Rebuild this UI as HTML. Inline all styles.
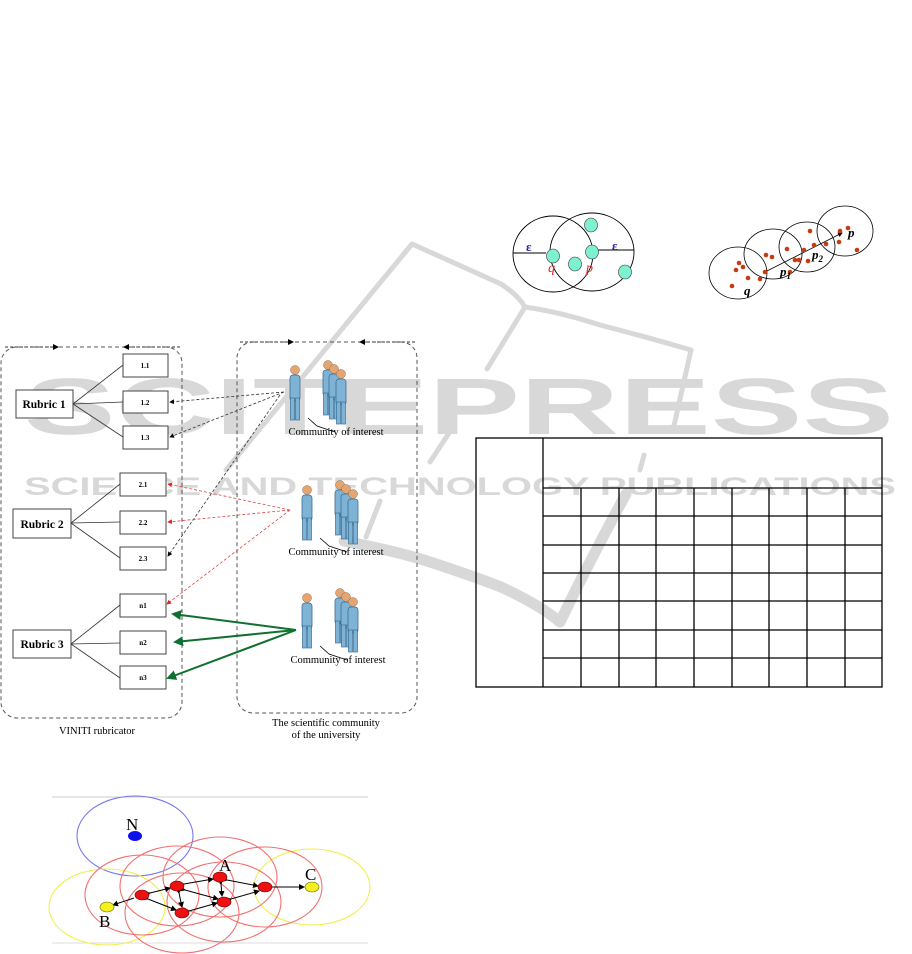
<!DOCTYPE html>
<html><head><meta charset="utf-8"><style>
html,body{margin:0;padding:0;background:#fff;}
svg{display:block;}
text{font-family:"Liberation Serif",serif;}
</style></head><body>
<svg width="912" height="954" viewBox="0 0 912 954" xmlns="http://www.w3.org/2000/svg">
<defs>
<marker id="ak" markerWidth="6" markerHeight="6" refX="5" refY="3" orient="auto"><path d="M0,0 L6,3 L0,6 z" fill="#000"/></marker>
<marker id="ar" markerWidth="6" markerHeight="6" refX="5" refY="3" orient="auto"><path d="M0,0 L6,3 L0,6 z" fill="#d22"/></marker>
<marker id="ag" markerWidth="5" markerHeight="5" refX="4" refY="2.5" orient="auto"><path d="M0,0 L5,2.5 L0,5 z" fill="#107030"/></marker>
<g id="man">
<circle cx="0" cy="0" r="4.5" fill="#e2a574" stroke="#a06a40" stroke-width="0.5"/>
<rect x="-5" y="5" width="10" height="26" rx="3" fill="#7fb3d6" stroke="#3a6f95" stroke-width="0.8"/>
<rect x="-4.5" y="28" width="4" height="22" fill="#7fb3d6" stroke="#3a6f95" stroke-width="0.7"/>
<rect x="0.5" y="28" width="4" height="22" fill="#7fb3d6" stroke="#3a6f95" stroke-width="0.7"/>
</g>
<g id="group">
<use href="#man" x="0" y="0"/>
<use href="#man" x="33" y="-5"/>
<use href="#man" x="39" y="-1"/>
<use href="#man" x="46" y="4"/>
<path d="M13,48 L22,56 L40,62" fill="none" stroke="#000" stroke-width="0.8"/>
</g>
</defs>

<!-- watermark -->
<g fill="none" stroke="#d8d8d8" stroke-width="5" stroke-linecap="round" stroke-linejoin="round">
<path d="M226,470 L412,244 Q470,270 501,284 Q518,295 525,307 Q560,312 600,325 Q650,338 691,350 L673,430"/>
<path d="M525,307 L487,369"/>
<path d="M451,430 L430,462"/>
<path d="M380,501 L366,537"/>
<path d="M644,455 L640,470"/>
<path d="M344,541 Q400,552 430,562 Q470,575 501,587 Q540,605 560,622 Q590,560 626,494" stroke-width="11"/>
</g>
<text x="24" y="434" font-weight="bold" font-size="80" fill="#d8d8d8" textLength="870" lengthAdjust="spacingAndGlyphs" style="font-family:'Liberation Sans',sans-serif">SCITEPRESS</text>
<text x="24" y="495" font-weight="bold" font-size="25" fill="#d8d8d8" textLength="872" lengthAdjust="spacingAndGlyphs" style="font-family:'Liberation Sans',sans-serif">SCIENCE AND TECHNOLOGY PUBLICATIONS</text>

<!-- DBSCAN left -->
<g fill="none" stroke="#000" stroke-width="0.9">
<ellipse cx="553" cy="254" rx="40" ry="38"/>
<ellipse cx="592" cy="252" rx="42" ry="39"/>
<line x1="513" y1="253" x2="546" y2="253"/>
<line x1="598" y1="250" x2="634" y2="250"/>
</g>
<g fill="#7ff0d0" stroke="#333" stroke-width="0.6">
<ellipse cx="553" cy="256" rx="6.5" ry="7"/>
<ellipse cx="591" cy="225" rx="6.5" ry="7"/>
<ellipse cx="575" cy="264" rx="6.5" ry="7"/>
<ellipse cx="592" cy="252" rx="6.5" ry="7"/>
<ellipse cx="625" cy="272" rx="6.5" ry="7"/>
</g>
<text x="526" y="251" font-size="13" font-weight="bold" fill="#229">ε</text>
<text x="612" y="250" font-size="13" font-weight="bold" fill="#229">ε</text>
<text x="548" y="272" font-size="14" font-style="italic" fill="#e22">q</text>
<text x="586" y="272" font-size="14" font-style="italic" fill="#e22">p</text>

<!-- DBSCAN right -->
<g fill="none" stroke="#000" stroke-width="0.8">
<ellipse cx="738" cy="273" rx="29" ry="26"/>
<ellipse cx="773" cy="254" rx="29" ry="25"/>
<ellipse cx="807" cy="247" rx="28" ry="25"/>
<ellipse cx="845" cy="231" rx="28" ry="25"/>
<line x1="765" y1="272" x2="842" y2="233" marker-end="url(#ak)"/>
</g>
<g fill="#c83a10">
<circle cx="739" cy="263" r="2.3"/><circle cx="743" cy="267" r="2.3"/><circle cx="736" cy="270" r="2.3"/><circle cx="765" cy="272" r="2.3"/><circle cx="748" cy="278" r="2.3"/><circle cx="760" cy="279" r="2.3"/><circle cx="732" cy="286" r="2.3"/>
<circle cx="766" cy="255" r="2.3"/><circle cx="772" cy="257" r="2.3"/><circle cx="787" cy="249" r="2.3"/><circle cx="799" cy="260" r="2.3"/><circle cx="790" cy="272" r="2.3"/><circle cx="804" cy="250" r="2.3"/><circle cx="808" cy="261" r="2.3"/><circle cx="795" cy="260" r="2.3"/>
<circle cx="814" cy="245" r="2.3"/><circle cx="826" cy="244" r="2.3"/><circle cx="839" cy="242" r="2.3"/><circle cx="840" cy="231" r="2.3"/><circle cx="810" cy="231" r="2.3"/><circle cx="857" cy="250" r="2.3"/><circle cx="848" cy="228" r="2.3"/>
</g>
<text x="744" y="295" font-size="13" font-weight="bold" font-style="italic">q</text>
<text x="780" y="276" font-size="13" font-weight="bold" font-style="italic">p<tspan font-size="9" dy="3">1</tspan></text>
<text x="812" y="259" font-size="13" font-weight="bold" font-style="italic">p<tspan font-size="9" dy="3">2</tspan></text>
<text x="848" y="237" font-size="13" font-weight="bold" font-style="italic">p</text>

<!-- Left diagram -->
<g fill="none" stroke="#555" stroke-width="1" stroke-dasharray="4,3">
<rect x="1" y="347" width="181" height="371" rx="16"/>
<rect x="237" y="342" width="180" height="371" rx="16"/>
</g>
<g stroke="#333" stroke-width="1" stroke-dasharray="3,2">
<line x1="5" y1="347" x2="58" y2="347" marker-end="url(#ak)"/>
<line x1="180" y1="347" x2="124" y2="347" marker-end="url(#ak)"/>
<line x1="240" y1="342" x2="293" y2="342" marker-end="url(#ak)"/>
<line x1="415" y1="342" x2="360" y2="342" marker-end="url(#ak)"/>
</g>
<g stroke="#333" stroke-width="0.8">
<line x1="73" y1="404" x2="123" y2="365"/><line x1="73" y1="404" x2="123" y2="402"/><line x1="73" y1="404" x2="123" y2="437"/>
<line x1="71" y1="523" x2="120" y2="484"/><line x1="71" y1="523" x2="120" y2="522"/><line x1="71" y1="523" x2="120" y2="558"/>
<line x1="71" y1="644" x2="120" y2="605"/><line x1="71" y1="644" x2="120" y2="643"/><line x1="71" y1="644" x2="120" y2="678"/>
</g>
<g fill="#fff" stroke="#444" stroke-width="1">
<rect x="16" y="390" width="57" height="28"/><rect x="13" y="509" width="58" height="29"/><rect x="13" y="630" width="58" height="28"/>
<rect x="123" y="354" width="45" height="23"/><rect x="123" y="391" width="45" height="22"/><rect x="123" y="426" width="45" height="23"/>
<rect x="120" y="473" width="46" height="23"/><rect x="120" y="511" width="46" height="23"/><rect x="120" y="547" width="46" height="23"/>
<rect x="120" y="594" width="46" height="23"/><rect x="120" y="631" width="46" height="23"/><rect x="120" y="666" width="46" height="23"/>
</g>
<g font-size="11.5" font-weight="bold" text-anchor="middle">
<text x="44" y="408">Rubric 1</text><text x="42" y="528">Rubric 2</text><text x="42" y="648">Rubric 3</text>
</g>
<g font-size="7" font-weight="bold" text-anchor="middle" style="font-family:'Liberation Sans',sans-serif">
<text x="145" y="368">1.1</text><text x="145" y="405">1.2</text><text x="145" y="440">1.3</text>
<text x="143" y="487">2.1</text><text x="143" y="525">2.2</text><text x="143" y="561">2.3</text>
<text x="143" y="608">n1</text><text x="143" y="645">n2</text><text x="143" y="680">n3</text>
</g>
<g fill="none" stroke="#333" stroke-width="0.8" stroke-dasharray="3,2">
<line x1="284" y1="392" x2="170" y2="402" marker-end="url(#ak)"/>
<line x1="284" y1="392" x2="170" y2="437" marker-end="url(#ak)"/>
<line x1="280" y1="395" x2="168" y2="556" marker-end="url(#ak)"/>
</g>
<g fill="none" stroke="#d44" stroke-width="0.8" stroke-dasharray="3,2">
<line x1="290" y1="510" x2="168" y2="484" marker-end="url(#ar)"/>
<line x1="290" y1="510" x2="168" y2="522" marker-end="url(#ar)"/>
<line x1="290" y1="510" x2="167" y2="604" marker-end="url(#ar)"/>
</g>
<g fill="none" stroke="#107030" stroke-width="2">
<line x1="296" y1="630" x2="173" y2="614" marker-end="url(#ag)"/>
<line x1="296" y1="630" x2="175" y2="642" marker-end="url(#ag)"/>
<line x1="296" y1="630" x2="168" y2="678" marker-end="url(#ag)"/>
</g>
<use href="#group" x="295" y="370"/>
<use href="#group" x="307" y="490"/>
<use href="#group" x="307" y="598"/>
<g font-size="10.5" text-anchor="middle">
<text x="336" y="435">Community of interest</text>
<text x="336" y="555">Community of interest</text>
<text x="338" y="663">Community of interest</text>
<text x="97" y="734">VINITI rubricator</text>
<text x="326" y="726">The scientific community</text>
<text x="326" y="738">of the university</text>
</g>

<!-- Bottom figure -->
<line x1="52" y1="797" x2="368" y2="797" stroke="#ccc" stroke-width="1"/>
<line x1="52" y1="943" x2="368" y2="943" stroke="#ddd" stroke-width="1"/>
<g fill="none" stroke-width="1.1">
<ellipse cx="135" cy="836" rx="58" ry="40" stroke="#7777ee"/>
<ellipse cx="107" cy="907" rx="58" ry="38" stroke="#f0f050"/>
<ellipse cx="312" cy="887" rx="58" ry="38" stroke="#f0f050"/>
<g stroke="#f27070">
<ellipse cx="142" cy="895" rx="57" ry="40"/><ellipse cx="177" cy="886" rx="57" ry="40"/><ellipse cx="220" cy="877" rx="57" ry="40"/><ellipse cx="224" cy="902" rx="57" ry="40"/><ellipse cx="182" cy="913" rx="57" ry="40"/><ellipse cx="265" cy="887" rx="57" ry="40"/>
</g>
</g>
<g stroke="#000" stroke-width="1" fill="none">
<line x1="134" y1="898" x2="113" y2="905" marker-end="url(#ak)"/>
<line x1="150" y1="893" x2="170" y2="888" marker-start="url(#ak)" marker-end="url(#ak)"/>
<line x1="184" y1="884" x2="213" y2="879" marker-start="url(#ak)" marker-end="url(#ak)"/>
<line x1="148" y1="899" x2="176" y2="910" marker-start="url(#ak)" marker-end="url(#ak)"/>
<line x1="179" y1="893" x2="182" y2="907" marker-start="url(#ak)" marker-end="url(#ak)"/>
<line x1="185" y1="890" x2="218" y2="899" marker-start="url(#ak)" marker-end="url(#ak)"/>
<line x1="189" y1="911" x2="217" y2="903" marker-start="url(#ak)" marker-end="url(#ak)"/>
<line x1="221" y1="884" x2="222" y2="896" marker-start="url(#ak)" marker-end="url(#ak)"/>
<line x1="227" y1="880" x2="258" y2="886" marker-start="url(#ak)" marker-end="url(#ak)"/>
<line x1="231" y1="899" x2="259" y2="891" marker-start="url(#ak)" marker-end="url(#ak)"/>
<line x1="272" y1="887" x2="304" y2="887" marker-end="url(#ak)"/>
</g>
<g stroke="#600" stroke-width="0.6" fill="#ee1111">
<ellipse cx="142" cy="895" rx="7" ry="5"/><ellipse cx="177" cy="886" rx="7" ry="5"/><ellipse cx="220" cy="877" rx="7" ry="5"/><ellipse cx="224" cy="902" rx="7" ry="5"/><ellipse cx="182" cy="913" rx="7" ry="5"/><ellipse cx="265" cy="887" rx="7" ry="5"/>
</g>
<ellipse cx="107" cy="907" rx="7" ry="5" fill="#f5f020" stroke="#660" stroke-width="0.6"/>
<ellipse cx="312" cy="887" rx="7" ry="5" fill="#f5f020" stroke="#660" stroke-width="0.6"/>
<ellipse cx="135" cy="836" rx="7" ry="5" fill="#1010ee"/>
<g font-size="17">
<text x="126" y="830">N</text><text x="219" y="871">A</text><text x="305" y="880">C</text><text x="99" y="927">B</text>
</g>

<!-- Table -->
<g stroke="#000" stroke-width="1.3" fill="none">
<rect x="476" y="438" width="406" height="249"/>
<line x1="543" y1="438" x2="543" y2="687"/>
<line x1="543" y1="488" x2="882" y2="488"/>
<line x1="543" y1="516" x2="882" y2="516"/><line x1="543" y1="545" x2="882" y2="545"/><line x1="543" y1="573" x2="882" y2="573"/><line x1="543" y1="601" x2="882" y2="601"/><line x1="543" y1="630" x2="882" y2="630"/><line x1="543" y1="658" x2="882" y2="658"/>
<line x1="581" y1="488" x2="581" y2="687"/><line x1="619" y1="488" x2="619" y2="687"/><line x1="656" y1="488" x2="656" y2="687"/><line x1="694" y1="488" x2="694" y2="687"/><line x1="732" y1="488" x2="732" y2="687"/><line x1="769" y1="488" x2="769" y2="687"/><line x1="807" y1="488" x2="807" y2="687"/><line x1="845" y1="488" x2="845" y2="687"/>
</g>
</svg>
</body></html>
